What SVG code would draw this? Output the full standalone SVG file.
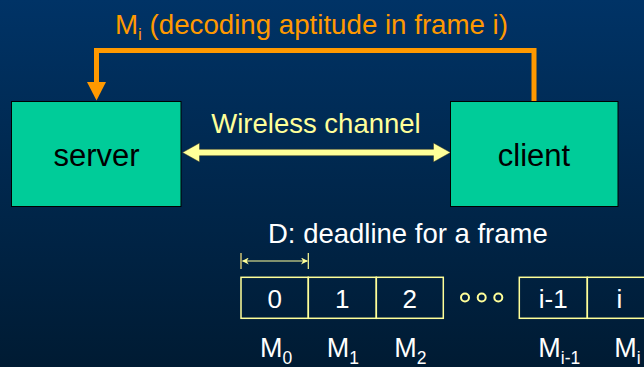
<svg xmlns="http://www.w3.org/2000/svg" width="644" height="367" viewBox="0 0 644 367">
<defs>
<linearGradient id="bg" x1="0" y1="0" x2="0" y2="1">
<stop offset="0" stop-color="#003366"/>
<stop offset="1" stop-color="#001b33"/>
</linearGradient>
<marker id="dimA" viewBox="0 0 10 10" refX="9" refY="5" markerWidth="7" markerHeight="7" markerUnits="userSpaceOnUse" orient="auto-start-reverse">
<path d="M0,0 L10,5 L0,10 L3,5 Z" fill="#ffff99"/>
</marker>
<style>
.node{fill:#00cc99;stroke:#000000;stroke-width:1}
.ntext{font-family:"Liberation Sans",Arial,sans-serif;font-size:31px;fill:#000000;text-anchor:middle}
.wtext{font-family:"Liberation Sans",Arial,sans-serif;font-size:26px;fill:#ffffff;text-anchor:middle}
.cell{fill:none;stroke:#ffff99;stroke-width:1.5}
.dot{fill:#001f3f;stroke:#ffff99;stroke-width:2}
</style>
</defs>
<rect x="0" y="0" width="644" height="367" fill="url(#bg)"/>

<g id="connectors">
<g id="feedback">
<polyline points="534,101.5 534,50.5 96.5,50.5 96.5,83" fill="none" stroke="#ff9900" stroke-width="5"/>
<polygon points="87,82 106,82 96.5,100.5" fill="#ff9900"/>
<text x="115" y="34" font-family="'Liberation Sans',Arial,sans-serif" font-size="27.5" fill="#ff9900" textLength="393" lengthAdjust="spacingAndGlyphs">M<tspan font-size="17" dy="6">i</tspan><tspan dy="-6"> (decoding aptitude in frame i)</tspan></text>
</g>
<g id="wireless">
<polygon points="182.5,152.5 199.5,143 199.5,149.3 433.5,149.3 433.5,143 450.5,152.5 433.5,162 433.5,155.7 199.5,155.7 199.5,162" fill="#ffff99" stroke="#333322" stroke-width="0.5"/>
<text x="316" y="133" font-family="'Liberation Sans',Arial,sans-serif" font-size="27.5" fill="#ffff99" text-anchor="middle">Wireless channel</text>
</g>
</g>

<g id="server">
<rect class="node" x="11.5" y="101.5" width="169.5" height="105"/>
<text class="ntext" x="96.5" y="166">server</text>
</g>
<g id="client">
<rect class="node" x="450.5" y="101.5" width="167.5" height="105"/>
<text class="ntext" x="534" y="166">client</text>
</g>

<g id="timeline">
<text x="268" y="243" font-family="'Liberation Sans',Arial,sans-serif" font-size="27.5" fill="#ffffff">D: deadline for a frame</text>
<line x1="241" y1="253" x2="241" y2="269" stroke="#999966" stroke-width="2"/>
<line x1="308.3" y1="253" x2="308.3" y2="269" stroke="#ffff99" stroke-width="1.2"/>
<line x1="242.5" y1="261" x2="307.3" y2="261" stroke="#ffff99" stroke-width="1.2" marker-start="url(#dimA)" marker-end="url(#dimA)"/>

<g id="cell0"><rect class="cell" x="241" y="277.3" width="67.3" height="41"/><text class="wtext" x="274.7" y="307.5">0</text></g>
<g id="cell1"><rect class="cell" x="308.3" y="277.3" width="68" height="41"/><text class="wtext" x="342.3" y="307.5">1</text></g>
<g id="cell2"><rect class="cell" x="376.3" y="277.3" width="67" height="41"/><text class="wtext" x="409.8" y="307.5">2</text></g>
<circle class="dot" cx="465" cy="297.5" r="4"/>
<circle class="dot" cx="481.7" cy="297.5" r="4"/>
<circle class="dot" cx="498.3" cy="297.5" r="4"/>
<g id="cellim1"><rect class="cell" x="519.3" y="277.3" width="68" height="41"/><text class="wtext" x="553.3" y="307.5">i-1</text></g>
<g id="celli"><rect class="cell" x="587.3" y="277.3" width="68" height="41"/><text class="wtext" x="619.3" y="307.5">i</text></g>

<g font-family="'Liberation Sans',Arial,sans-serif" font-size="27" fill="#ffffff">
<text x="260" y="357.3">M<tspan font-size="17.5" dy="7">0</tspan></text>
<text x="326.7" y="357.3">M<tspan font-size="17.5" dy="7">1</tspan></text>
<text x="394.3" y="357.3">M<tspan font-size="17.5" dy="7">2</tspan></text>
<text x="538.3" y="357.3">M<tspan font-size="17.5" dy="7">i-1</tspan></text>
<text x="614.3" y="357.3">M<tspan font-size="17.5" dy="7">i</tspan></text>
</g>
</g>
</svg>
